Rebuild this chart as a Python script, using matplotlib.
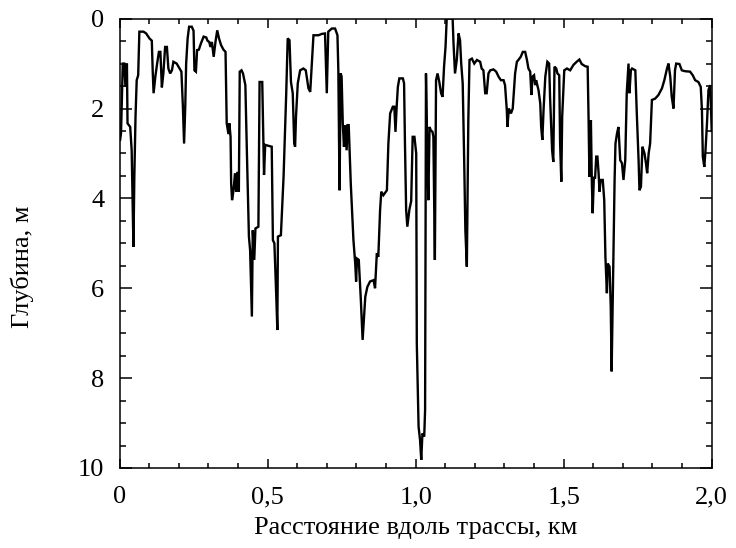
import matplotlib
matplotlib.use("Agg")
import matplotlib.pyplot as plt
from matplotlib.ticker import MultipleLocator

plt.rcParams['font.family'] = ['Liberation Serif', 'DejaVu Serif']

x_km = [0.000, 0.002, 0.005, 0.011, 0.016, 0.020, 0.025, 0.027, 0.036, 0.041, 0.047, 0.050, 0.054, 0.058,
        0.063, 0.067, 0.081, 0.090, 0.101, 0.109, 0.112, 0.115, 0.121, 0.127, 0.133, 0.138, 0.143, 0.148,
        0.154, 0.160, 0.165, 0.171, 0.177, 0.182, 0.193, 0.201, 0.209, 0.214, 0.218, 0.222, 0.225, 0.230,
        0.235, 0.244, 0.250, 0.253, 0.258, 0.262, 0.268, 0.275, 0.284, 0.293, 0.297, 0.303, 0.307, 0.312,
        0.318, 0.324, 0.330, 0.336, 0.343, 0.351, 0.358, 0.362, 0.368, 0.371, 0.375, 0.377, 0.380, 0.385,
        0.390, 0.394, 0.398, 0.403, 0.406, 0.412, 0.417, 0.425, 0.430, 0.437, 0.441, 0.447, 0.450, 0.455,
        0.459, 0.469, 0.473, 0.482, 0.485, 0.488, 0.492, 0.514, 0.518, 0.523, 0.529, 0.533, 0.535, 0.545,
        0.554, 0.563, 0.568, 0.574, 0.579, 0.585, 0.590, 0.593, 0.596, 0.602, 0.610, 0.621, 0.629, 0.638,
        0.644, 0.649, 0.655, 0.672, 0.683, 0.694, 0.700, 0.705, 0.717, 0.728, 0.736, 0.739, 0.743, 0.747,
        0.750, 0.754, 0.758, 0.762, 0.767, 0.770, 0.774, 0.781, 0.790, 0.796, 0.799, 0.802, 0.808, 0.815,
        0.821, 0.826, 0.830, 0.837, 0.846, 0.858, 0.863, 0.869, 0.874, 0.880, 0.884, 0.891, 0.903, 0.908,
        0.914, 0.923, 0.928, 0.932, 0.936, 0.940, 0.945, 0.957, 0.961, 0.964, 0.968, 0.972, 0.979, 0.985,
        0.990, 0.996, 1.002, 1.004, 1.010, 1.015, 1.019, 1.023, 1.029, 1.032, 1.035, 1.040, 1.043, 1.047,
        1.051, 1.057, 1.060, 1.065, 1.069, 1.074, 1.080, 1.086, 1.091, 1.096, 1.101, 1.105, 1.125, 1.128,
        1.133, 1.139, 1.145, 1.150, 1.154, 1.159, 1.164, 1.168, 1.173, 1.178, 1.182, 1.190, 1.198, 1.207,
        1.218, 1.223, 1.229, 1.235, 1.240, 1.246, 1.252, 1.263, 1.272, 1.280, 1.288, 1.297, 1.302, 1.308,
        1.310, 1.315, 1.322, 1.328, 1.336, 1.342, 1.347, 1.355, 1.362, 1.370, 1.376, 1.381, 1.387, 1.391,
        1.395, 1.400, 1.404, 1.407, 1.415, 1.421, 1.424, 1.428, 1.432, 1.438, 1.445, 1.451, 1.454, 1.458,
        1.461, 1.465, 1.469, 1.475, 1.479, 1.485, 1.488, 1.492, 1.495, 1.502, 1.511, 1.522, 1.533, 1.544,
        1.553, 1.561, 1.573, 1.581, 1.584, 1.587, 1.592, 1.595, 1.598, 1.602, 1.606, 1.610, 1.614, 1.618,
        1.621, 1.625, 1.632, 1.637, 1.641, 1.646, 1.649, 1.655, 1.659, 1.662, 1.668, 1.672, 1.675, 1.680,
        1.685, 1.691, 1.697, 1.702, 1.708, 1.713, 1.719, 1.722, 1.727, 1.731, 1.742, 1.747, 1.753, 1.756,
        1.761, 1.766, 1.773, 1.778, 1.782, 1.787, 1.792, 1.798, 1.809, 1.820, 1.832, 1.840, 1.849, 1.854,
        1.860, 1.865, 1.871, 1.876, 1.880, 1.891, 1.899, 1.910, 1.927, 1.936, 1.944, 1.955, 1.963, 1.967,
        1.970, 1.975, 1.979, 1.984, 1.989, 1.995, 2.000]

depth_m = [2.70, 2.70, 2.55, 1.00, 1.00, 1.52, 1.00, 2.33, 2.41, 2.93, 5.08, 3.52, 2.18, 1.37,
           1.26, 0.29, 0.29, 0.33, 0.44, 0.49, 1.15, 1.66, 1.29, 1.00, 0.74, 0.74, 1.53, 1.22,
           0.63, 0.63, 1.11, 1.22, 1.15, 0.96, 1.00, 1.09, 1.18, 1.96, 2.78, 1.96, 1.00, 0.44,
           0.18, 0.18, 0.27, 1.15, 1.18, 0.70, 0.69, 0.55, 0.40, 0.42, 0.49, 0.52, 0.63, 0.52,
           0.85, 0.52, 0.26, 0.44, 0.59, 0.69, 0.74, 2.33, 2.57, 2.33, 2.63, 3.67, 4.04, 3.82,
           3.44, 3.85, 3.41, 3.85, 1.18, 1.15, 1.22, 1.48, 2.93, 4.85, 5.15, 6.63, 4.71, 5.37,
           4.67, 4.63, 1.41, 1.41, 2.41, 3.48, 2.81, 2.85, 4.93, 5.00, 6.11, 6.93, 4.85, 4.82,
           3.52, 1.66, 0.44, 0.48, 1.41, 1.66, 2.78, 2.85, 2.18, 1.44, 1.15, 1.11, 1.15, 1.55,
           1.63, 1.07, 0.37, 0.37, 0.34, 0.33, 1.66, 0.29, 0.22, 0.22, 0.37, 1.15, 3.82, 1.22,
           1.29, 2.33, 2.85, 2.37, 2.93, 2.37, 2.37, 3.67, 4.93, 5.45, 5.85, 5.34, 5.37, 6.26,
           7.15, 6.63, 6.19, 5.97, 5.85, 5.82, 6.00, 5.22, 5.30, 4.26, 3.85, 3.93, 3.82, 2.78,
           2.11, 1.96, 1.96, 2.52, 1.96, 1.52, 1.33, 1.33, 1.44, 2.78, 4.26, 4.63, 4.25, 4.06,
           2.63, 2.63, 3.00, 7.23, 9.08, 9.38, 9.82, 9.23, 9.30, 8.71, 1.22, 3.15, 4.04, 2.41,
           2.48, 2.52, 2.63, 5.37, 1.37, 1.22, 1.41, 1.66, 1.74, 1.07, 0.63, 0.00, 0.00, 0.55,
           1.22, 0.92, 0.33, 0.48, 1.00, 1.44, 3.15, 4.71, 5.52, 2.26, 0.92, 0.89, 1.00, 0.92,
           0.96, 1.11, 1.15, 1.66, 1.66, 1.22, 1.15, 1.13, 1.18, 1.29, 1.37, 1.37, 1.48, 2.04,
           2.41, 2.00, 2.11, 2.00, 1.22, 0.96, 0.92, 0.85, 0.74, 0.74, 0.92, 1.11, 1.18, 1.70,
           1.29, 1.26, 1.48, 1.37, 1.59, 1.89, 2.41, 2.70, 2.04, 1.29, 0.96, 1.00, 1.74, 2.41,
           2.93, 3.19, 1.07, 1.11, 1.22, 1.26, 2.78, 3.63, 2.18, 1.15, 1.11, 1.15, 1.03, 0.96,
           0.91, 1.01, 1.06, 1.07, 2.18, 3.52, 2.26, 3.59, 4.33, 3.52, 3.56, 3.07, 3.07, 3.44,
           3.85, 3.59, 3.59, 4.04, 5.30, 6.11, 5.45, 5.52, 6.41, 7.85, 5.30, 3.59, 2.78, 2.56,
           2.41, 3.15, 3.22, 3.59, 3.15, 1.66, 1.00, 1.66, 1.15, 1.11, 1.15, 2.11, 3.15, 3.82,
           3.74, 2.85, 3.00, 3.22, 3.44, 3.00, 2.78, 1.81, 1.78, 1.70, 1.55, 1.37, 1.11, 1.00,
           1.29, 1.74, 2.00, 1.15, 1.00, 1.01, 1.15, 1.17, 1.18, 1.26, 1.37, 1.41, 1.52, 2.04,
           3.07, 3.30, 2.93, 2.33, 1.59, 1.48, 2.50]

x_ticks = [0.0, 0.5, 1.0, 1.5, 2.0]
x_tick_labels = ['0', '0,5', '1,0', '1,5', '2,0']
y_ticks = [0, 2, 4, 6, 8, 10]
y_tick_labels = ['0', '2', '4', '6', '8', '10']

fig = plt.figure(figsize=(7.36, 5.48), dpi=100)
ax = fig.add_axes([0.1624, 0.146, 0.8046, 0.820])

ax.plot(x_km, depth_m, color='black', lw=1.7, solid_joinstyle='miter')

ax.set_xlim(0, 2.0)
ax.set_ylim(10, 0)
ax.set_xticks(x_ticks)
ax.set_xticklabels(x_tick_labels)
ax.set_yticks(y_ticks)
ax.set_yticklabels(y_tick_labels)
ax.xaxis.set_minor_locator(MultipleLocator(0.1))
ax.yaxis.set_minor_locator(MultipleLocator(0.5))

ax.tick_params(axis='both', which='both', direction='in', top=True, right=True,
               width=1.1, colors='black', labelsize=19)
ax.tick_params(axis='x', which='major', length=6.5, pad=13)
ax.tick_params(axis='x', which='minor', length=3.6)
ax.tick_params(axis='y', which='major', length=8.6, pad=11)
ax.tick_params(axis='y', which='minor', length=4.3)
for s in ax.spines.values():
    s.set_linewidth(1.1)

ax.set_xlabel('Расстояние вдоль трассы, км', fontsize=19)
ax.set_ylabel('Глубина, м', fontsize=19)
ax.xaxis.set_label_coords(0.5, -0.109)
ax.yaxis.set_label_coords(-0.144, 0.447)

fig.savefig('out.png', dpi=100)
